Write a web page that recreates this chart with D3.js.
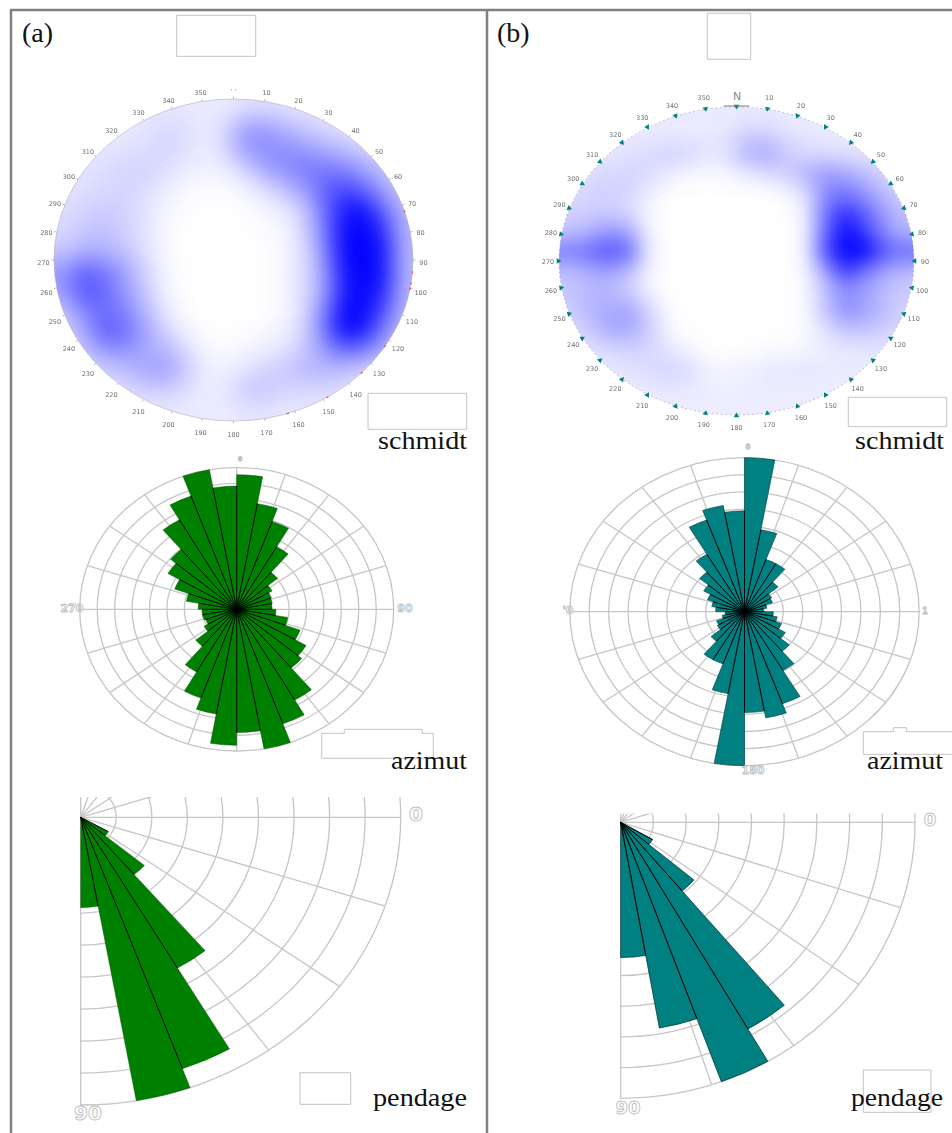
<!DOCTYPE html>
<html><head><meta charset="utf-8">
<script src="https://cdn.jsdelivr.net/npm/d3@7/dist/d3.min.js"></script>
<style>html,body{margin:0;padding:0;background:#fff}svg{display:block}</style>
</head><body><svg id="chart" width="952" height="1133"></svg>
<script>
// ---- data ----
const panelLabels = ["(a)", "(b)"];
const captions = ["schmidt", "azimut", "pendage"];
const tickDegrees = [10,20,30,40,50,60,70,80,90,100,110,120,130,140,150,160,170,180,190,200,210,220,230,240,250,260,270,280,290,300,310,320,330,340,350];
// density (0 = white, 1 = full blue) on a coarse grid over the Schmidt net
const densityA = [
[.09,.09,.09,.09,.09,.09,.09,.08,.08,.11,.13,.11,.09,.09,.09,.09,.09,.09],
[.09,.09,.09,.09,.10,.16,.14,.08,.13,.40,.42,.32,.22,.15,.12,.10,.09,.09],
[.09,.09,.10,.11,.13,.17,.14,.07,.13,.40,.46,.46,.42,.34,.26,.18,.13,.11],
[.10,.11,.13,.17,.18,.13,.08,.05,.06,.15,.34,.46,.52,.54,.50,.38,.22,.15],
[.11,.13,.15,.17,.14,.08,.03,.01,.01,.04,.10,.24,.38,.62,.74,.62,.36,.20],
[.13,.17,.20,.18,.12,.04,.01,0,0,0,.03,.08,.18,.55,.90,1.0,.60,.26],
[.15,.22,.25,.19,.11,.03,0,0,0,0,.01,.03,.14,.50,.98,1.3,.85,.28],
[.20,.30,.30,.22,.13,.03,0,0,0,0,0,.03,.12,.42,1.0,1.35,.95,.28],
[.40,.62,.52,.38,.18,.04,0,0,0,0,0,.03,.12,.36,.95,1.35,.95,.28],
[.40,.74,.60,.42,.22,.05,0,0,0,0,0,.03,.14,.32,.90,1.3,.90,.28],
[.22,.50,.58,.50,.30,.10,.01,0,0,0,0,.03,.12,.48,1.05,1.2,.72,.26],
[.15,.34,.68,.60,.38,.18,.05,0,0,0,.02,.05,.14,.52,1.05,.95,.50,.22],
[.12,.22,.40,.44,.34,.30,.17,.04,.02,.04,.07,.10,.22,.36,.58,.52,.30,.18],
[.10,.14,.18,.24,.34,.42,.25,.07,.05,.11,.16,.24,.28,.30,.24,.17,.12,.10],
[.09,.10,.11,.13,.17,.18,.12,.07,.08,.22,.24,.16,.15,.14,.12,.10,.09,.09],
[.09,.09,.09,.09,.09,.09,.09,.08,.08,.10,.10,.09,.09,.09,.09,.09,.09,.09]];
const densityB = [
[.08,.08,.08,.08,.08,.08,.08,.08,.08,.09,.09,.08,.08,.08,.08,.08,.08,.08],
[.08,.08,.08,.08,.09,.09,.09,.09,.10,.20,.20,.13,.10,.08,.08,.08,.08,.08],
[.09,.09,.10,.12,.14,.18,.17,.10,.12,.30,.34,.22,.16,.15,.13,.11,.10,.10],
[.10,.13,.16,.17,.15,.08,.03,.02,.03,.07,.13,.18,.30,.40,.36,.26,.16,.13],
[.14,.17,.18,.17,.07,.01,0,0,0,0,0,.03,.12,.46,.54,.42,.26,.18],
[.18,.19,.20,.16,.03,0,0,0,0,0,0,0,.06,.55,.82,.62,.38,.24],
[.24,.30,.42,.36,.05,0,0,0,0,0,0,0,.05,.58,.98,.76,.46,.30],
[.52,.58,.68,.62,.09,0,0,0,0,0,0,0,.05,.70,1.45,1.05,.66,.58],
[.26,.32,.38,.28,.05,0,0,0,0,0,0,0,.03,.36,.78,.54,.36,.28],
[.22,.28,.28,.18,.05,0,0,0,0,0,0,0,.02,.24,.44,.36,.26,.20],
[.20,.28,.34,.36,.18,.02,0,0,0,0,0,0,.02,.24,.46,.38,.26,.18],
[.13,.22,.34,.36,.22,.04,0,0,0,0,0,0,.02,.12,.24,.24,.20,.15],
[.09,.12,.16,.18,.17,.10,.03,0,0,0,.01,.02,.04,.07,.10,.11,.11,.10],
[.08,.09,.10,.12,.14,.17,.15,.05,.04,.06,.08,.09,.09,.08,.08,.08,.08,.08],
[.08,.08,.08,.08,.09,.12,.10,.07,.06,.07,.08,.08,.08,.07,.07,.07,.07,.07],
[.07,.07,.07,.07,.07,.07,.07,.07,.07,.07,.07,.07,.07,.07,.07,.07,.07,.07]];
// azimuth rose: 36 bins of 10 degrees, clockwise from north, fraction of outer ring
const azimutA = [.95,.757,.66,.51,.34,.26,.235,.23,.225,.25,.33,.43,.51,.54,.74,.86,1.0,.87,
                 .96,.75,.665,.51,.34,.24,.21,.22,.22,.245,.325,.42,.505,.55,.73,.85,1.0,.87];
const azimutB = [1.0,.54,.36,.36,.25,.18,.17,.13,.11,.165,.19,.225,.27,.335,.44,.636,.70,.655,
                 1.0,.54,.36,.36,.25,.18,.17,.13,.11,.165,.19,.225,.27,.335,.43,.633,.70,.655];
// dip rose: bins of 10 degrees from 0 (east) to 90 (south)
const pendageBins = [0,10,20,30,40,50,60,70,80];
const pendageA = [0,0,0,.10,.26,.605,.93,1.0,.314];
const pendageB = [0,0,0,.125,.325,.865,1.0,.757,.49];
const redMarksA = [72,94,98,100,122,134,148,162];

// ---- layout and styling ----
const svg = d3.select("#chart");
const GRID = "#c6c6c6", FRAME = "#808080", BOX = "#c4c4c4";
const SERIF = "'Liberation Serif','DejaVu Serif',serif";
const rad = d => d * Math.PI / 180;
const defs = svg.append("defs");
function blur(id, sd, region) {
  const f = defs.append("filter").attr("id",id).attr("color-interpolation-filters","sRGB");
  if (region) f.attr("x",-60).attr("y",-60).attr("width",1100).attr("height",1300).attr("filterUnits","userSpaceOnUse");
  f.append("feGaussianBlur").attr("stdDeviation",sd);
}
blur("softA",12,true); blur("softB",10,true); blur("fuzz",.42,false);
const color = d3.scaleLinear().domain([0,1]).range(["#ffffff","#0000ff"]).clamp(true);

function schmidt(id, m, g, opts) {
  const root = svg.append("g");
  defs.append("clipPath").attr("id","net"+id).append("ellipse")
    .attr("cx",g.cx).attr("cy",g.cy).attr("rx",g.rx).attr("ry",g.ry);
  const x = d3.scaleBand().domain(d3.range(m[0].length)).range([g.cx-g.rx,g.cx+g.rx]);
  const y = d3.scaleBand().domain(d3.range(m.length)).range([g.cy-g.ry,g.cy+g.ry]);
  const clip = root.append("g").attr("clip-path",`url(#net${id})`);
  const cells = clip.append("g").attr("filter",`url(#${opts.blur})`);
  const pad = 40;
  m.forEach((row,j)=>row.forEach((v,i)=>{
    const l = i===0?pad:0, r = i===row.length-1?pad:0, t = j===0?pad:0, b = j===m.length-1?pad:0;
    cells.append("rect").attr("x",x(i)-l).attr("y",y(j)-t)
      .attr("width",x.bandwidth()+l+r+.5).attr("height",y.bandwidth()+t+b+.5).attr("fill",color(v));
  }));
  root.append("ellipse").attr("cx",g.cx).attr("cy",g.cy).attr("rx",g.rx).attr("ry",g.ry)
    .attr("fill","none").attr("stroke",opts.outline).attr("stroke-width",.6).attr("stroke-dasharray",opts.dash);
  const at = (d,k) => [g.cx + g.rx*k*Math.sin(rad(d)), g.cy - g.ry*k*Math.cos(rad(d))];
  const all = [0].concat(tickDegrees);
  if (opts.marker) {
    root.selectAll(null).data(all).join("path")
      .attr("d",d3.symbol(d3.symbolTriangle,13))
      .attr("fill",opts.marker)
      .attr("transform",d=>{const p=at(d,1.004);return `translate(${p[0]},${p[1]}) rotate(${d+180})`;});
  } else {
    root.selectAll(null).data(all).join("line")
      .attr("x1",d=>at(d,1)[0]).attr("y1",d=>at(d,1)[1])
      .attr("x2",d=>at(d,1.014)[0]).attr("y2",d=>at(d,1.014)[1])
      .attr("stroke","#a0a0a0").attr("stroke-width",.7);
    root.selectAll(null).data(redMarksA).join("line")
      .attr("x1",d=>at(d,1)[0]).attr("y1",d=>at(d,1)[1])
      .attr("x2",d=>at(d+.8,1)[0]).attr("y2",d=>at(d+.8,1)[1])
      .attr("stroke","#f05050").attr("stroke-width",1.3);
  }
  const lab = root.append("g").attr("filter","url(#fuzz)").attr("font-family","DejaVu Sans")
    .attr("font-size",6.5).attr("fill","#707070").attr("text-anchor","middle");
  tickDegrees.forEach(d=>{
    const p = [g.lx + g.lrx*Math.sin(rad(d)), g.ly - g.lry*Math.cos(rad(d))];
    lab.append("text").attr("x",p[0]).attr("y",p[1]+2.3).text(d);
  });
  if (opts.north) {
    root.append("line").attr("x1",g.cx-13).attr("x2",g.cx+13).attr("y1",g.cy-g.ry-1).attr("y2",g.cy-g.ry-1)
      .attr("stroke","#777").attr("stroke-width",1);
    root.append("text").attr("x",g.cx+.5).attr("y",g.cy-g.ry-7).attr("text-anchor","middle")
      .attr("font-family","DejaVu Sans").attr("font-size",11).attr("fill","#8a8a8a").text(opts.north);
  } else {
    lab.append("text").attr("x",g.lx).attr("y",g.ly-g.lry+2).text("· ·");
  }
}

function polarGrid(parent, r, rings, spokes) {
  parent.selectAll(null).data(rings).join("circle").attr("r",d=>r(d))
    .attr("fill","none").attr("stroke",GRID).attr("stroke-width",1.3).attr("vector-effect","non-scaling-stroke");
  parent.selectAll(null).data(spokes).join("line")
    .attr("x1",0).attr("y1",0)
    .attr("x2",d=>r(1)*Math.sin(rad(d))).attr("y2",d=>-r(1)*Math.cos(rad(d)))
    .attr("stroke",GRID).attr("stroke-width",1.3).attr("vector-effect","non-scaling-stroke");
}
const ringValues = d3.range(1,10).map(i=>i/9);
const spokeAngles = d3.range(0,360,18);

function ghost(x,y,t,size) {
  svg.append("text").attr("x",x).attr("y",y).attr("text-anchor","middle")
    .attr("font-family","DejaVu Sans").attr("font-size",size).attr("font-weight","bold")
    .attr("fill","#fff").attr("stroke","#bdbdbd").attr("stroke-width",.9).text(t);
}

// bars: filled wedges, with black separators where two neighbouring bars touch
function wedges(root, items, r, edge, step) {
  const arc = d3.arc().innerRadius(0);
  root.selectAll(null).data(items).join("path")
    .attr("d",d=>arc({outerRadius:r(d.v),startAngle:rad(d.a),endAngle:rad(d.a+step)}))
    .attr("fill",d=>d.fill).attr("stroke",edge.color).attr("stroke-width",edge.width).attr("vector-effect","non-scaling-stroke");
  const seps = items.map((d,i)=>({a:d.a,len:Math.min(d.v,(items[(i-1+items.length)%items.length]||d).v)}));
  root.selectAll(null).data(seps).join("line")
    .attr("x1",0).attr("y1",0)
    .attr("x2",d=>r(d.len)*Math.sin(rad(d.a))).attr("y2",d=>-r(d.len)*Math.cos(rad(d.a)))
    .attr("stroke","#000").attr("stroke-width",.9).attr("vector-effect","non-scaling-stroke");
}

function azimut(values, g, fill, edge) {
  const r = d3.scaleLinear().domain([0,1]).range([0,g.rx]);
  const root = svg.append("g").attr("transform",`translate(${g.cx},${g.cy}) scale(1,${g.ry/g.rx})`);
  polarGrid(root, r, ringValues, spokeAngles);
  wedges(root, values.map((v,i)=>({v,a:i*10,fill})), r, edge, 10);
}

function pendage(id, values, g, fill, edge) {
  const r = d3.scaleLinear().domain([0,1]).range([0,g.rx]);
  defs.append("clipPath").attr("id","q"+id).append("rect")
    .attr("x",g.cx-.7).attr("y",g.top).attr("width",g.rx+4).attr("height",g.ry+(g.cy-g.top)+4);
  const clip = svg.append("g").attr("clip-path",`url(#q${id})`);
  const root = clip.append("g").attr("transform",`translate(${g.cx},${g.cy}) scale(1,${g.ry/g.rx})`);
  polarGrid(root, r, ringValues, spokeAngles);
  const items = values.map((v,i)=>({v,a:90+pendageBins[i],fill})).filter(d=>d.v>0);
  wedges(root, items, r, edge, 10);
}

function box(pts) {
  svg.append("path").attr("d",d3.line()(pts)+"Z").attr("fill","#fff").attr("stroke",BOX).attr("stroke-width",1);
}
function rectBox(x0,y0,x1,y1){ box([[x0,y0],[x1,y0],[x1,y1],[x0,y1]]); }
function caption(t,x0,x1,base){
  svg.append("text").attr("x",x0).attr("y",base).attr("font-family",SERIF).attr("font-size",25)
    .attr("fill","#111").attr("textLength",x1-x0).attr("lengthAdjust","spacingAndGlyphs").text(t);
}

// ---- frame ----
svg.append("path").attr("d","M952,10H11V1133M487,10V1133").attr("fill","none").attr("stroke",FRAME).attr("stroke-width",2.5);
svg.append("text").attr("x",22).attr("y",42).attr("font-family",SERIF).attr("font-size",28).attr("fill","#111").text(panelLabels[0]);
svg.append("text").attr("x",497).attr("y",42).attr("font-family",SERIF).attr("font-size",28).attr("fill","#111").text(panelLabels[1]);

// ---- schmidt nets ----
schmidt("a", densityA, {cx:233.5,cy:260,rx:179.5,ry:161,lx:233.5,ly:262.5,lrx:190,lry:172.5}, {outline:"#b0b0c0",dash:null,blur:"softA"});
schmidt("b", densityB, {cx:736.5,cy:261,rx:177.5,ry:154,lx:736.5,ly:261.5,lrx:188.5,lry:166}, {outline:"#999",dash:"2 2.5",marker:"#008080",north:"N",blur:"softB"});

// ---- azimuth roses ----
azimut(azimutA, {cx:236.7,cy:609.3,rx:157,ry:141.7}, "#008000", {color:"#004a00",width:.5});
azimut(azimutB, {cx:744.5,cy:611.7,rx:174.7,ry:154}, "#008080", {color:"#003a3a",width:.6});
ghost(240,461,"0",6); ghost(72,612,"270",11); ghost(405,612,"90",11);
ghost(748,449,"0",7); ghost(568,614,"'0",11); ghost(925,614,"1",8); ghost(753,774,"180",11);

// ---- dip roses ----
pendage("a", pendageA, {cx:80.7,cy:817.3,rx:320,ry:287.7,top:797}, "#008000", {color:"#004a00",width:.4});
pendage("b", pendageB, {cx:620.7,cy:822.3,rx:294.3,ry:276,top:813.5}, "#008080", {color:"#002a2a",width:.7});
ghost(416,821,"0",20); ghost(88,1120,"90",20);
ghost(930,826,"0",18); ghost(628,1114,"90",18);

// ---- blank annotation boxes and captions ----
rectBox(176.7,15.3,255.7,56.3);
rectBox(707.3,13.3,750.7,59.3);
rectBox(368,393.3,466.7,429.3);
rectBox(848.3,397.3,946.7,426.7);
box([[321.7,733.3],[344.3,733.3],[344.3,729.3],[422.3,729.3],[422.3,733.3],[433.3,733.3],[433.3,758.3],[321.7,758.3]]);
box([[863.3,731.7],[893.3,731.7],[893.3,727.7],[906.7,727.7],[906.7,731.7],[953,731.7],[953,754.3],[863.3,754.3]]);
rectBox(300,1072.7,350.7,1104.3);
rectBox(863.3,1070,931,1112.3);
caption(captions[0],378,467,449); caption(captions[0],855,944,449);
caption(captions[1],391,467,769); caption(captions[1],867,943,769);
caption(captions[2],373,467,1106); caption(captions[2],851,943,1106);
</script></body></html>
